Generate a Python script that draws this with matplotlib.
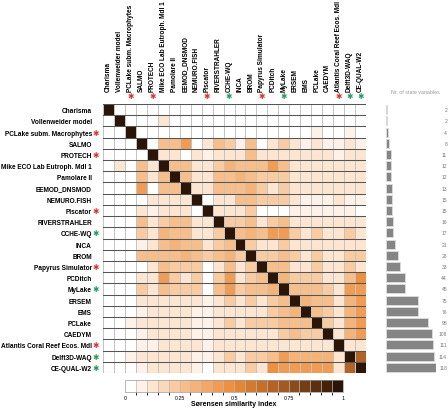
import numpy as np
import matplotlib.pyplot as plt
from matplotlib.colors import LinearSegmentedColormap, ListedColormap, BoundaryNorm
from matplotlib.cm import ScalarMappable

plt.rcParams['font.family'] = ['Liberation Sans', 'DejaVu Sans']

models = ['Charisma', 'Vollenweider model', 'PCLake subm. Macrophytes', 'SALMO', 'PROTECH',
          'Mike ECO Lab Eutroph. Mdl 1', 'Pamolare II', 'EEMOD_DNSMOD', 'NEMURO.FISH', 'Piscator',
          'RIVERSTRAHLER', 'CCHE-WQ', 'INCA', 'BROM', 'Papyrus Simulator', 'PCDitch', 'MyLake',
          'ERSEM', 'EMS', 'PCLake', 'CAEDYM', 'Atlantis Coral Reef Ecos. Mdl', 'Delft3D-WAQ', 'CE-QUAL-W2']
nr_state_vars = [2, 2, 4, 8, 11, 12, 12, 13, 15, 15, 16, 17, 21, 28, 33, 44, 45, 75, 76, 98, 108, 111, 114, 118]
red_marked = ['PCLake subm. Macrophytes', 'PROTECH', 'Piscator', 'Papyrus Simulator', 'Atlantis Coral Reef Ecos. Mdl']
green_marked = ['CCHE-WQ', 'MyLake', 'Delft3D-WAQ', 'CE-QUAL-W2']

# lower triangle of the Sorensen similarity matrix (row i, columns 0..i-1)
lower = [
    [0],
    [0, 0],
    [0, 0, 0],
    [0, 0, 0, 0],
    [0, 0.15, 0, 0.3, 0.12],
    [0, 0, 0, 0.25, 0.1, 0.3],
    [0, 0, 0, 0.42, 0, 0.3, 0.3],
    [0, 0, 0, 0, 0.1, 0.15, 0.15, 0.15],
    [0, 0, 0, 0.15, 0.05, 0.15, 0.1, 0.15, 0],
    [0, 0, 0, 0.3, 0.15, 0.2, 0.25, 0.25, 0.15, 0.1],
    [0, 0, 0, 0.2, 0.1, 0.35, 0.25, 0.25, 0.15, 0.1, 0.2],
    [0, 0, 0, 0.05, 0.15, 0.25, 0.35, 0.3, 0.25, 0.15, 0.2, 0.25],
    [0, 0, 0, 0.25, 0.25, 0.3, 0.3, 0.35, 0.3, 0.2, 0.3, 0.35, 0.2],
    [0, 0, 0, 0, 0.1, 0.25, 0.2, 0.2, 0.2, 0, 0.15, 0.3, 0.1, 0.2],
    [0, 0, 0, 0.12, 0.1, 0.4, 0.2, 0.15, 0.2, 0, 0.2, 0.4, 0.12, 0.2, 0.25],
    [0, 0, 0, 0.2, 0.15, 0.25, 0.2, 0.2, 0.2, 0, 0.25, 0.4, 0.2, 0.3, 0.25, 0.35],
    [0, 0, 0, 0.1, 0.1, 0.15, 0.15, 0.15, 0.1, 0.05, 0.15, 0.2, 0.1, 0.2, 0.15, 0.2, 0.25],
    [0, 0, 0, 0.05, 0.1, 0.1, 0.1, 0.1, 0.05, 0.05, 0.1, 0.15, 0.1, 0.15, 0.15, 0.2, 0.3, 0.35],
    [0, 0, 0.05, 0.1, 0.1, 0.15, 0.12, 0.12, 0.05, 0.05, 0.1, 0.2, 0.1, 0.2, 0.2, 0.2, 0.25, 0.25, 0.25],
    [0, 0, 0, 0.05, 0.1, 0.1, 0.1, 0.1, 0.05, 0.05, 0.1, 0.15, 0.1, 0.15, 0.1, 0.15, 0.2, 0.25, 0.2, 0.2],
    [0, 0, 0, 0.05, 0.05, 0.1, 0.1, 0.1, 0.1, 0.05, 0.1, 0.15, 0.1, 0.15, 0.1, 0.1, 0.1, 0.15, 0.1, 0.1, 0.1],
    [0, 0, 0.05, 0.1, 0.1, 0.1, 0.1, 0.1, 0.05, 0.05, 0.1, 0.2, 0.15, 0.2, 0.2, 0.3, 0.4, 0.35, 0.35, 0.35, 0.35, 0.15],
    [0, 0, 0, 0.05, 0.1, 0.1, 0.1, 0.1, 0.05, 0, 0.1, 0.15, 0.1, 0.2, 0.15, 0.45, 0.4, 0.4, 0.4, 0.4, 0.4, 0.1, 0.7],
]

n = len(models)
S = np.eye(n)
for i, row in enumerate(lower, start=1):
    for j, v in enumerate(row):
        S[i, j] = v
        S[j, i] = v

### colour scale: 20 discrete steps white -> orange -> dark brown
base = LinearSegmentedColormap.from_list('sor', [(0, '#ffffff'), (0.25, '#f8c18e'), (0.5, '#ee8a36'),
                                                 (0.75, '#a0561e'), (1, '#2b1507')])
bounds = np.linspace(0, 1, 21)
cmap = ListedColormap([base(k / 19) for k in range(20)])
norm = BoundaryNorm(bounds, cmap.N)
cmap.set_over(cmap(19))

W, H = 448, 410
fig = plt.figure(figsize=(W / 100, H / 100), dpi=100)

def fx(px): return px / W
def fy(py): return 1 - py / H

gx0, gx1, gy0, gy1 = 103, 366, 105, 374
ax = fig.add_axes([fx(gx0), fy(gy1), fx(gx1 - gx0), (gy1 - gy0) / H])
ax.pcolormesh(S, cmap=cmap, norm=norm, edgecolors='#c4c4c4', linewidth=0.5)
for y in range(n + 1):
    ax.axhline(y, color='#555555', lw=0.75)
ax.set_xlim(0, n)
ax.set_ylim(n, 0)
for s in ax.spines.values():
    s.set_visible(False)
ax.tick_params(length=0)
ax.set_yticks(np.arange(n) + 0.5)
ax.set_yticklabels(models, fontsize=4.7, fontweight='bold')
ax.tick_params(axis='y', pad=8)
ax.xaxis.tick_top()
ax.set_xticks(np.arange(n) + 0.5)
ax.set_xticklabels(models, fontsize=4.7, fontweight='bold', rotation=90)
ax.tick_params(axis='x', pad=9)

### red / green markers next to labels
for i, m in enumerate(models):
    col = '#e2302b' if m in red_marked else ('#1f9e5a' if m in green_marked else None)
    if col is None:
        continue
    ax.text(-0.4, i + 0.5, '\u2731', color=col, fontsize=5.5, ha='right', va='center',
            family=['DejaVu Sans'])
    ax.text(i + 0.5, -0.4, '\u2731', color=col, fontsize=5.5, ha='center', va='bottom',
            family=['DejaVu Sans'])

### bars with number of state variables
bax = fig.add_axes([fx(386), fy(gy1), fx(50), (gy1 - gy0) / H])
bax.barh(np.arange(n), nr_state_vars, height=0.8, color='#858585', edgecolor='#dddddd', linewidth=0.6)
bax.set_ylim(n - 0.5, -0.5)
bax.set_xlim(0, 118)
bax.axis('off')
for i, v in enumerate(nr_state_vars):
    fig.text(fx(447), fy(gy0 + (i + 0.5) * (gy1 - gy0) / n), str(v), fontsize=3.6,
             color='#777777', ha='right', va='center')
fig.text(fx(415), fy(92), 'Nr. of state variables', fontsize=3.8, color='#999999', ha='center', va='center')

### colorbar
cax = fig.add_axes([fx(125), fy(393), fx(343 - 125), 12 / H])
cb = fig.colorbar(ScalarMappable(norm=norm, cmap=cmap), cax=cax, orientation='horizontal',
                  drawedges=True)
cb.outline.set_edgecolor('#999999')
cb.outline.set_linewidth(0.5)
cb.dividers.set_color('#bbbbbb')
cb.dividers.set_linewidth(0.5)
cb.set_ticks([0, 0.25, 0.5, 0.75, 1])
cb.set_ticklabels(['0', '0.25', '0.5', '0.75', '1'])
cax.tick_params(labelsize=3.8, length=0, pad=2)
fig.text(fx(234), fy(405), 'Sørensen similarity index', fontsize=5, fontweight='bold', ha='center', va='center')

fig.savefig('out.png', dpi=100)
